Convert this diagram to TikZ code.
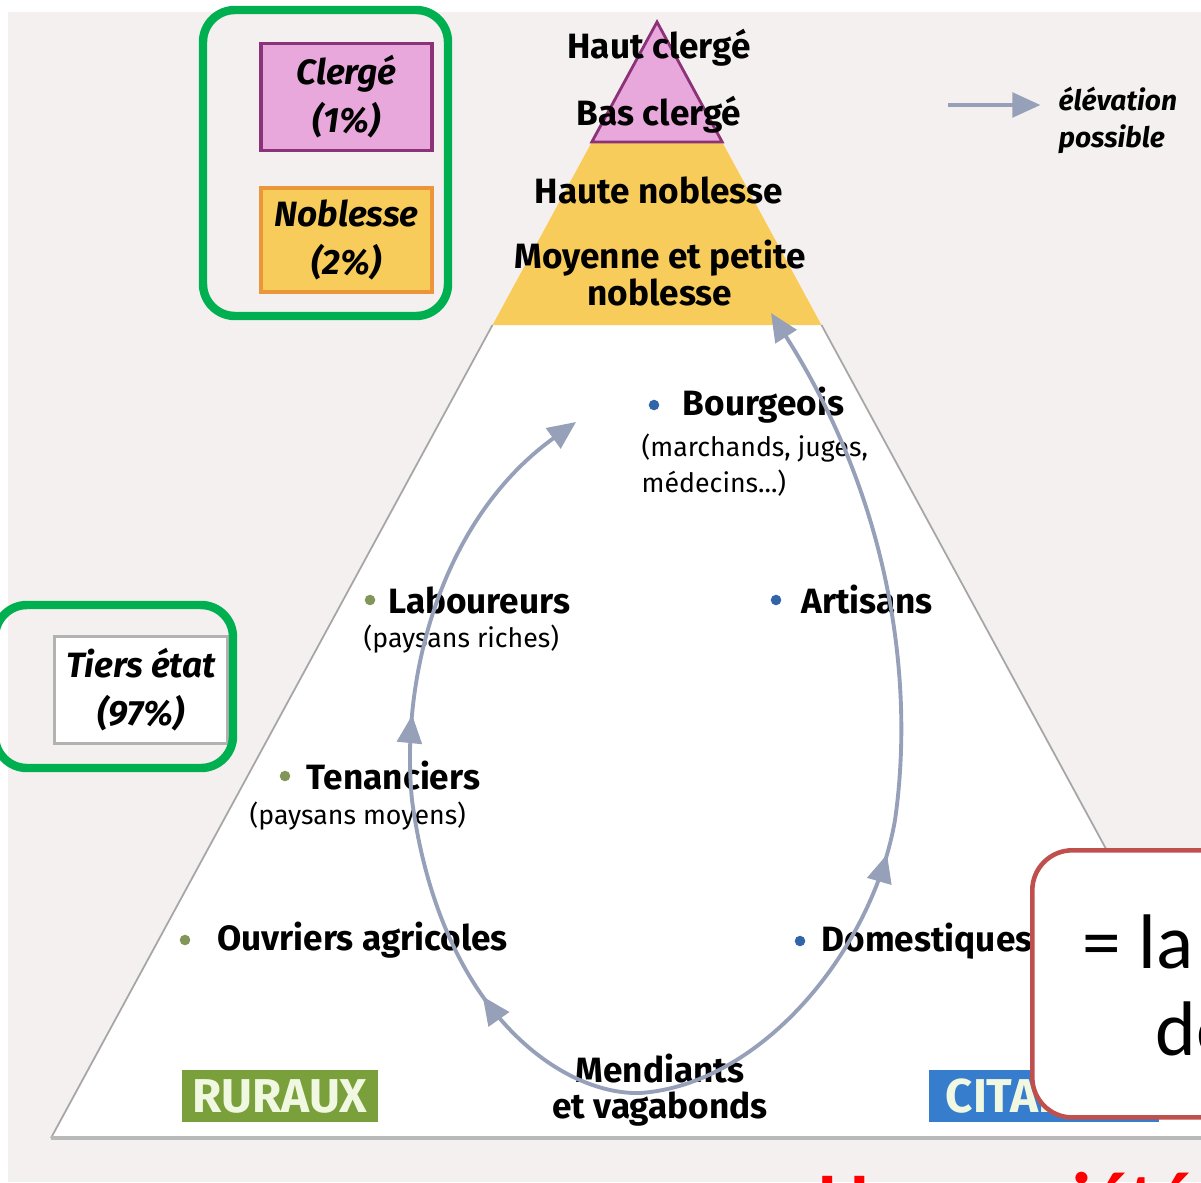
\documentclass[tikz,border=0pt]{standalone}
\usepackage{fontspec}
\setmainfont{Fira Sans}
\newfontfamily\calibri{Carlito}
\usetikzlibrary{arrows.meta, positioning, decorations.markings}
\definecolor{clergepink}{RGB}{232,168,220}
\definecolor{clergeline}{RGB}{140,50,120}
\definecolor{noblesseyellow}{RGB}{247,204,90}
\definecolor{noblesseline}{RGB}{236,150,60}
\definecolor{slidegreen}{RGB}{0,176,80}
\definecolor{slidered}{RGB}{192,80,77}
\definecolor{elevblue}{RGB}{150,160,185}
\definecolor{ruralgreen}{RGB}{122,160,60}
\definecolor{citablue}{RGB}{55,125,205}
\definecolor{pagegray}{RGB}{245,240,240}
\definecolor{dotgreen}{RGB}{130,150,90}
\definecolor{dotblue}{RGB}{50,100,170}
\definecolor{palelabel}{RGB}{240,248,225}

\begin{document}
\begin{tikzpicture}[x=0.01cm, y=-0.01cm,
    layer/.style={font=\bfseries\fontsize{10}{10.3}\selectfont, align=center, inner sep=0pt},
    groupe/.style={font=\bfseries\fontsize{10}{12}\selectfont, inner sep=0pt, anchor=west},
    detail/.style={font=\fontsize{7.6}{10.2}\selectfont, inner sep=0pt, align=left},
    puce/.style={circle, fill=#1, inner sep=0pt, minimum size=3pt},
    ordre/.style={rectangle, draw=#1, line width=0.9pt, minimum width=1.71cm, minimum height=1cm, align=center, font=\bfseries\itshape\fontsize{10}{13.7}\selectfont},
    cadre/.style={draw=slidegreen, line width=2.4pt, rounded corners=0.32cm},
    milieu/.style={rectangle, fill=#1, text=palelabel, font=\bfseries\fontsize{13.5}{13.5}\selectfont, minimum height=0.52cm, inner sep=2pt},
    elevation/.style={draw=elevblue, line width=1.1pt, -{Triangle[length=8pt, width=7pt]}},
    pointe/.style={postaction={decorate}, decoration={markings, mark=at position #1 with {\arrow{Triangle[length=8pt, width=7pt]}}}},
    deuxpointes/.style 2 args={postaction={decorate}, decoration={markings,
        mark=at position #1 with {\arrow{Triangle[length=8pt, width=7pt]}},
        mark=at position #2 with {\arrow{Triangle[length=8pt, width=7pt]}}}},
]
\useasboundingbox (0,0) rectangle (1201,1182);
\fill[white] (0,0) rectangle (1201,1182);
\fill[pagegray] (8,12) rectangle (1201,1182);

% pyramide
\coordinate (sommet) at (657,22);
\fill[white] (sommet) -- (51,1138) -- (1263,1138) -- cycle;
\fill[noblesseyellow] (591.8,142) -- (722.2,142) -- (821.5,325) -- (492.5,325) -- cycle;
\filldraw[fill=clergepink, draw=clergeline, line width=0.8pt] (sommet) -- (591.8,142) -- (722.2,142) -- cycle;
\draw[gray!70, line width=0.5pt] (492.5,325) -- (51,1138) (821.5,325) -- (1263,1138);
\draw[gray!55, line width=1.3pt] (51,1138) -- (1263,1138);

\node[layer] (hautclerge) at (659,48) {Haut clergé};
\node[layer] (basclerge) at (659,115) {Bas clergé};
\node[layer] (hautenoblesse) at (659,190) {Haute noblesse};
\node[layer] (petitenoblesse) at (660,273) {Moyenne et petite\\noblesse};

% legende
\coordinate (legstart) at (948,105);
\node[font=\bfseries\itshape\fontsize{8}{10.5}\selectfont, align=left, inner sep=0pt, anchor=west] (legtext) at (1058,120) {élévation\\possible};
\draw[elevation, shorten >=5pt] (legstart) -- (legstart -| legtext.west);

% ordres
\node[ordre=clergeline, fill=clergepink] (clerge) at (346.5,97) {Clergé\\(1\%)};
\node[ordre=noblesseline, fill=noblesseyellow] (noblesse) at (346.5,240) {Noblesse\\(2\%)};
\node[ordre=gray!60, fill=white, minimum width=1.68cm] (tiers) at (141,690) {Tiers état\\(97\%)};
\draw[cadre] (203,10) rectangle (448,316);
\draw[cadre] (-5,605) rectangle (233,768);

% tiers etat
\node[puce=dotblue] (pbourgeois) at (654,405) {};
\node[groupe, right=8pt of pbourgeois.center] (bourgeois) {Bourgeois};
\node[detail, anchor=north west] (bourgeoisdet) at (641,433) {(marchands, juges,\\médecins...)};
\node[puce=dotgreen] (plaboureurs) at (370,600) {};
\node[groupe, right=5pt of plaboureurs.center] (laboureurs) {Laboureurs};
\node[detail, anchor=north west] (laboureursdet) at (363,624) {(paysans riches)};
\node[puce=dotblue] (partisans) at (776,600) {};
\node[groupe, right=7pt of partisans.center] (artisans) {Artisans};
\node[puce=dotgreen] (ptenanciers) at (285,776) {};
\node[groupe, right=6pt of ptenanciers.center] (tenanciers) {Tenanciers};
\node[detail, anchor=north west] (tenanciersdet) at (249,801) {(paysans moyens)};
\node[puce=dotgreen] (pouvriers) at (185,940) {};
\node[groupe, right=9pt of pouvriers.center] (ouvriers) {Ouvriers agricoles};
\node[puce=dotblue] (pdomestiques) at (800,941) {};
\node[groupe, right=6pt of pdomestiques.center] (domestiques) {Domestiques};
\node[layer] (mendiants) at (660,1090) {Mendiants\\et vagabonds};
\node[milieu=ruralgreen, minimum width=1.95cm] (ruraux) at (280,1096) {RURAUX};
\node[milieu=citablue, anchor=west, inner xsep=0.17cm, text width=1.96cm, align=left] (citadins) at (928,1096) {CITADINS};

% elevation possible
\coordinate (creux) at (640,1093);
\coordinate (cimegauche) at (576,422);
\coordinate (cimedroite) at (771,313);
\draw[elevation, deuxpointes={0.23}{0.585}]
    (creux) .. controls (560,1095) and (440,1010) .. (412,800)
    .. controls (400,680) and (440,520) .. (cimegauche);
\draw[elevation, pointe=0.39]
    (creux) .. controls (760,1085) and (872,952) .. (895,820)
    .. controls (915,680) and (890,500) .. (cimedroite);

% encadre rouge
\node[draw=slidered, line width=1.3pt, fill=white, rounded corners=0.4cm, minimum width=2.6cm, minimum height=2.67cm, anchor=north west] (societe) at (1030,848) {};
\node[font=\calibri\fontsize{22}{26}\selectfont, anchor=base west, inner sep=0pt] (egal) at (1082,968) {= la};
\node[font=\calibri\fontsize{22}{26}\selectfont, anchor=base west, inner sep=0pt] (de) at (1155,1055) {de};
\node[font=\calibri\bfseries\fontsize{22}{26}\selectfont, text=red, anchor=base west, inner sep=0pt] (titre) at (818,1226) {Une société};
\end{tikzpicture}
\end{document}
